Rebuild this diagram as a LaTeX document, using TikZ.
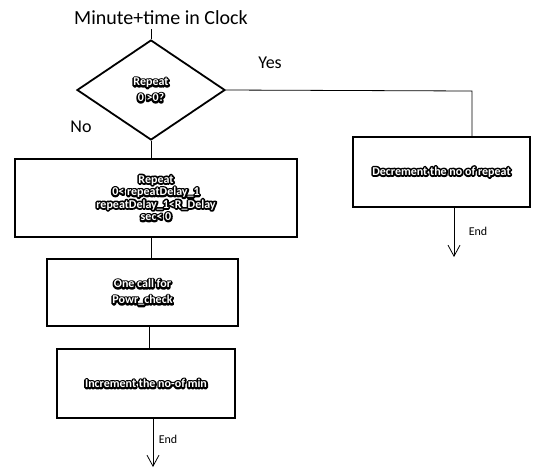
\documentclass[tikz,border=0pt]{standalone}
\usepackage{fontspec}
\setmainfont{Carlito}
\usetikzlibrary{shapes.geometric, arrows.meta}

% white letters on a black outline, as in the boxes
\newcommand{\halo}[1]{\leavevmode\rlap{\special{pdf:literal direct 1 J 1 j 3.4 w 2 Tr}#1\special{pdf:literal direct 0 Tr 0.8 w}}\textcolor{white}{#1}}

\begin{document}
\begin{tikzpicture}[x=1pt, y=-1pt, line width=0.8pt,
        box/.style={draw, line width=1.8pt, align=center, inner sep=0pt, font=\bfseries\fontsize{12}{12.5}\selectfont},
        lbl/.style={font=\fontsize{18}{20}\selectfont},
        endarrow/.style={-{Straight Barb[length=11pt, width=12pt]}}]
        \useasboundingbox (0,0) rectangle (541,475);

        \node[font=\fontsize{20}{22}\selectfont] (title) at (161,18) {Minute+time in Clock};
        \node[diamond, draw, line width=1.8pt, aspect=1.48, minimum width=148pt, minimum height=100pt, inner sep=0pt, align=center, font=\bfseries\fontsize{12}{16}\selectfont] (q) at (151,90) {\halo{Repeat}\\\halo{0 >0?}};
        \node[box, minimum width=282pt, minimum height=78pt] (rep) at (156,198) {\halo{Repeat}\\\halo{0< repeatDelay\_1}\\\halo{repeatDelay\_1<R\_Delay}\\\halo{sec< 0}};
        \node[box, minimum width=191pt, minimum height=67pt, font=\bfseries\fontsize{12}{16}\selectfont] (call) at (142.5,292.5) {\halo{One call for}\\\halo{Powr\_check}};
        \node[box, minimum width=178pt, minimum height=69pt] (inc) at (146,383.5) {\halo{Increment the no-of min}};
        \node[box, minimum width=177pt, minimum height=70pt] (dec) at (441.5,172) {\halo{Decrement the no of repeat}};

        \node[lbl] (yes) at (270,63) {Yes};
        \node[lbl] (no) at (81,127) {No};
        \node[font=\fontsize{12}{14}\selectfont] (end1) at (478,231) {End};
        \node[font=\fontsize{12}{14}\selectfont] (end2) at (168,439) {End};

        \coordinate (yc) at (472,91);
        \coordinate (tip1) at (454,257);
        \coordinate (tip2) at (153,467);

        \path (q.north |- title.south) edge (q.north);
        \path (q.south) edge (q.south |- rep.north);
        \path ([xshift=-5pt]rep.south) edge ([xshift=-5pt]rep.south |- call.north);
        \path ([xshift=6.5pt]call.south) edge ([xshift=6.5pt]call.south |- inc.north);
        \draw (q.east) -- (yc) -- (yc |- dec.north);
        \draw[endarrow] (tip1 |- dec.south) -- (tip1);
        \draw[endarrow] (tip2 |- inc.south) -- (tip2);
    \end{tikzpicture}
\end{document}
